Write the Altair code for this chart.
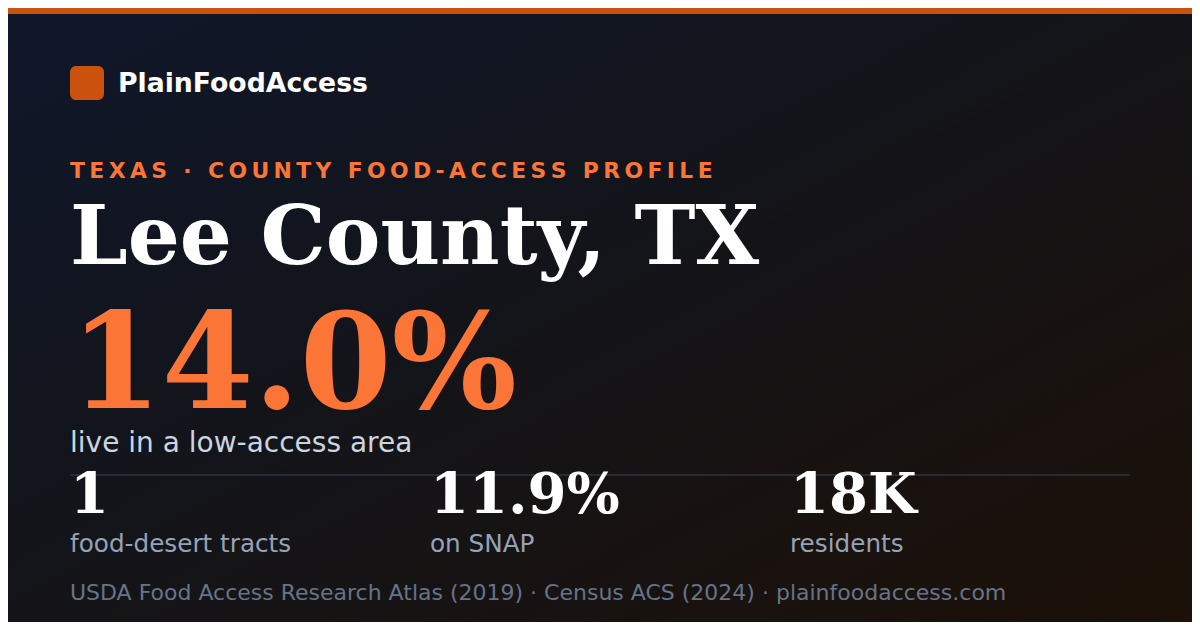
import altair as alt
import pandas as pd

# ---- content ----
BRAND = ["PlainFoodAccess"]
KICKER = ["TEXAS · COUNTY FOOD-ACCESS PROFILE"]
TITLE = ["Lee County, TX"]
HEADLINE_VALUE = ["14.0%"]
HEADLINE_LABEL = ["live in a low-access area"]
STAT_INDEX = [0, 1, 2]
STAT_VALUES = ["1", "11.9%", "18K"]
STAT_LABELS = ["food-desert tracts", "on SNAP", "residents"]
FOOTER = ["USDA Food Access Research Atlas (2019) · Census ACS (2024) · plainfoodaccess.com"]

# page has an 8px margin: keep the chart inside the 1200x630 window
W, H = 1184, 614
SANS = "DejaVu Sans"
SERIF = "DejaVu Serif"
ORANGE_DARK = "#cb510f"
ORANGE = "#fb7537"

one = pd.DataFrame({"k": [0]})

bg = alt.Chart(one).mark_rect(
    color=alt.Gradient(
        gradient="linear",
        stops=[
            alt.GradientStop(color="#0f172a", offset=0),
            alt.GradientStop(color="#141418", offset=0.5),
            alt.GradientStop(color="#1c1007", offset=1),
        ],
        x1=0, y1=0, x2=1, y2=1,
    )
).encode(x=alt.value(0), x2=alt.value(W), y=alt.value(0), y2=alt.value(H))

topbar = alt.Chart(one).mark_rect(color=ORANGE_DARK).encode(
    x=alt.value(0), x2=alt.value(W), y=alt.value(0), y2=alt.value(6)
)

logo = alt.Chart(one).mark_rect(color=ORANGE_DARK, cornerRadius=6).encode(
    x=alt.value(62), x2=alt.value(96), y=alt.value(58), y2=alt.value(92)
)

def text_layer(values, x, y, size, color, font=SANS, weight="normal"):
    df = pd.DataFrame({"t": values})
    return alt.Chart(df).mark_text(
        align="left", baseline="alphabetic", font=font, fontSize=size,
        fontWeight=weight, color=color,
    ).encode(text="t:N", x=alt.value(x), y=alt.value(y))

brand = text_layer(BRAND, 110, 84, 26.7, "#ffffff", weight="bold")
kicker = text_layer(["\u2009".join(KICKER[0])], 62, 170, 21.9, ORANGE, weight="bold")
title = text_layer(TITLE, 62, 256, 82, "#ffffff", font=SERIF, weight="bold")
headline = text_layer(HEADLINE_VALUE, 62, 400, 132, ORANGE, font=SERIF, weight="bold")
sub = text_layer(HEADLINE_LABEL, 62, 444, 28, "#cbd5e1")

divider = alt.Chart(one).mark_rule(color="#272b35", strokeWidth=2).encode(
    x=alt.value(62), x2=alt.value(1122), y=alt.value(467)
)

stats_df = pd.DataFrame({"i": STAT_INDEX, "v": STAT_VALUES, "l": STAT_LABELS})
xpos = alt.X("i:Q", scale=alt.Scale(domain=[0, 2], range=[62, 782]), axis=None)
stat_vals = alt.Chart(stats_df).mark_text(
    align="left", baseline="alphabetic", font=SERIF, fontSize=56,
    fontWeight="bold", color="#ffffff",
).encode(x=xpos, y=alt.value(505), text="v:N")
stat_labels = alt.Chart(stats_df).mark_text(
    align="left", baseline="alphabetic", font=SANS, fontSize=24.7, color="#94a3b8",
).encode(x=xpos, y=alt.value(544), text="l:N")

footer = text_layer(FOOTER, 62, 592, 22, "#64748b")

chart = alt.layer(
    bg, topbar, logo, brand, kicker, title, headline, sub, divider,
    stat_vals, stat_labels, footer,
).properties(
    width=W, height=H, padding=0,
    autosize=alt.AutoSizeParams(type="none"),
    background="#121420",
).configure_view(strokeWidth=0)

chart.save("out.html", embed_options={"renderer": "svg", "actions": False})
